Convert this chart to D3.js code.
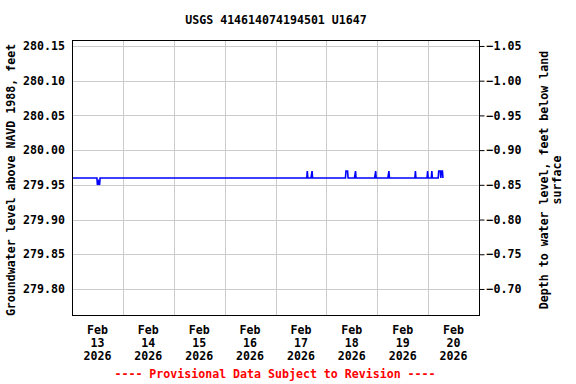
<!DOCTYPE html>
<html>
<head>
<meta charset="utf-8">
<script src="https://cdn.jsdelivr.net/npm/d3@7"></script>
<style>
  body { margin: 0; background: #fff; }
  text { font-family: "DejaVu Sans Mono", monospace; font-weight: bold; font-size: 11.6px; }
</style>
</head>
<body>
<svg id="chart" width="576" height="384"></svg>
<script>
const titleText = "USGS 414614074194501 U1647";
const leftAxisTitle = "Groundwater level above NAVD 1988, feet";
const rightAxisTitle = ["Depth to water level, feet below land", "surface"];
const footerText = "---- Provisional Data Subject to Revision ----";
const landSurface = 279.10;

const leftTicks = [279.80, 279.85, 279.90, 279.95, 280.00, 280.05, 280.10, 280.15];
const rightTicks = [-0.70, -0.75, -0.80, -0.85, -0.90, -0.95, -1.00, -1.05];
const dayLabels = ["2026-02-13", "2026-02-14", "2026-02-15", "2026-02-16", "2026-02-17", "2026-02-18", "2026-02-19", "2026-02-20"];

const times = [
  "2026-02-13T00:00", "2026-02-13T11:45", "2026-02-13T12:00", "2026-02-13T12:30", "2026-02-13T13:00", "2026-02-13T13:15",
  "2026-02-17T14:45", "2026-02-17T15:00", "2026-02-17T15:15",
  "2026-02-17T16:45", "2026-02-17T17:00", "2026-02-17T17:15", "2026-02-17T17:30",
  "2026-02-18T09:00", "2026-02-18T09:15", "2026-02-18T10:00", "2026-02-18T10:15",
  "2026-02-18T13:15", "2026-02-18T13:30", "2026-02-18T13:45", "2026-02-18T14:00",
  "2026-02-18T22:45", "2026-02-18T23:00", "2026-02-18T23:15", "2026-02-18T23:30",
  "2026-02-19T05:00", "2026-02-19T05:15", "2026-02-19T05:30", "2026-02-19T05:45",
  "2026-02-19T17:45", "2026-02-19T18:00", "2026-02-19T18:15",
  "2026-02-19T23:30", "2026-02-19T23:45", "2026-02-20T00:00",
  "2026-02-20T01:30", "2026-02-20T01:45", "2026-02-20T02:00",
  "2026-02-20T04:45", "2026-02-20T05:00", "2026-02-20T05:45", "2026-02-20T06:00", "2026-02-20T06:15", "2026-02-20T06:45", "2026-02-20T07:00"
];
const levels = [
  279.96, 279.96, 279.95, 279.955, 279.95, 279.96,
  279.96, 279.97, 279.96,
  279.96, 279.965, 279.97, 279.96,
  279.96, 279.97, 279.97, 279.96,
  279.96, 279.965, 279.97, 279.96,
  279.96, 279.965, 279.97, 279.96,
  279.96, 279.965, 279.97, 279.96,
  279.96, 279.97, 279.96,
  279.96, 279.97, 279.96,
  279.96, 279.97, 279.96,
  279.96, 279.97, 279.97, 279.96, 279.97, 279.97, 279.96
];

const parse = d3.utcParse("%Y-%m-%dT%H:%M");
const parseDay = d3.utcParse("%Y-%m-%d");
const data = times.map((t, i) => ({ t: parse(t), v: levels[i] }));

const svg = d3.select("#chart");
const L = 72, R = 479, T = 40, B = 315;

const x = d3.scaleUtc()
  .domain([parseDay("2026-02-13"), parseDay("2026-02-21")])
  .range([L, R]);
const y = d3.scaleLinear()
  .domain([279.7625, 280.1586])
  .range([B, T]);
const y2 = d3.scaleLinear()
  .domain([landSurface - 279.7625, landSurface - 280.1586])
  .range([B, T]);

// grid
const g = svg.append("g");
g.selectAll("line.hg").data(leftTicks).enter().append("line")
  .attr("x1", L).attr("x2", R)
  .attr("y1", d => Math.round(y(d)) + 0.5).attr("y2", d => Math.round(y(d)) + 0.5)
  .attr("stroke", "#cccccc").attr("stroke-width", 1);
const midnights = d3.utcDay.range(parseDay("2026-02-14"), parseDay("2026-02-21"));
g.selectAll("line.vg").data(midnights).enter().append("line")
  .attr("x1", d => Math.round(x(d)) + 0.5).attr("x2", d => Math.round(x(d)) + 0.5)
  .attr("y1", T).attr("y2", B)
  .attr("stroke", "#cccccc").attr("stroke-width", 1);

// data line (snapped so the baseline covers two full pixel rows)
const baseY = y(279.96);
const snap = Math.round(baseY) - baseY;
const line = d3.line().x(d => x(d.t)).y(d => y(d.v));
svg.append("path").datum(data)
  .attr("d", line)
  .attr("transform", `translate(0,${snap})`)
  .attr("fill", "none")
  .attr("stroke", "#0000ff")
  .attr("stroke-width", 1.6);

// frame
svg.append("rect")
  .attr("x", L + 0.5).attr("y", T + 0.5)
  .attr("width", R - L).attr("height", B - T)
  .attr("fill", "none").attr("stroke", "#000").attr("stroke-width", 1);

// left axis
const leftAxis = d3.axisLeft(y).tickValues(leftTicks).tickSize(0).tickPadding(7)
  .tickFormat(d3.format(".2f"));
const la = svg.append("g").attr("transform", `translate(${L},0)`).call(leftAxis);
la.select(".domain").remove();
la.selectAll("text").attr("fill", "#000").style("font-family", "'DejaVu Sans Mono', monospace").style("font-size", "11.6px");

// right axis
const rightAxis = d3.axisRight(y2).tickValues(rightTicks).tickSize(5).tickPadding(2)
  .tickFormat(d3.format(".2f"));
const ra = svg.append("g").attr("transform", `translate(${R + 0.5},0)`).call(rightAxis);
ra.select(".domain").remove();
ra.selectAll("line").attr("stroke", "#000");
ra.selectAll("text").attr("fill", "#000").style("font-family", "'DejaVu Sans Mono', monospace").style("font-size", "11.6px");

// bottom labels at noon of each day
const noons = dayLabels.map(d => d3.utcHour.offset(parseDay(d), 12));
const fmtMon = d3.utcFormat("%b"), fmtDay = d3.utcFormat("%d"), fmtYr = d3.utcFormat("%Y");
const bl = svg.append("g").selectAll("text").data(noons).enter().append("text")
  .attr("text-anchor", "middle")
  .attr("x", d => x(d));
bl.append("tspan").attr("x", d => x(d)).attr("y", 334).text(d => fmtMon(d));
bl.append("tspan").attr("x", d => x(d)).attr("y", 347).text(d => fmtDay(d));
bl.append("tspan").attr("x", d => x(d)).attr("y", 360).text(d => fmtYr(d));

// title
svg.append("text").attr("x", 276).attr("y", 24).attr("text-anchor", "middle").text(titleText);

// left axis title
svg.append("text")
  .attr("transform", "translate(15,180) rotate(-90)")
  .attr("text-anchor", "middle").text(leftAxisTitle);

// right axis title
svg.append("text")
  .attr("transform", "translate(548,180) rotate(-90)")
  .attr("text-anchor", "middle").text(rightAxisTitle[0]);
svg.append("text")
  .attr("transform", "translate(561,180) rotate(-90)")
  .attr("text-anchor", "middle").text(rightAxisTitle[1]);

// footer
svg.append("text").attr("x", 275).attr("y", 378).attr("text-anchor", "middle")
  .attr("fill", "#ff0000").text(footerText);
</script>
</body>
</html>
